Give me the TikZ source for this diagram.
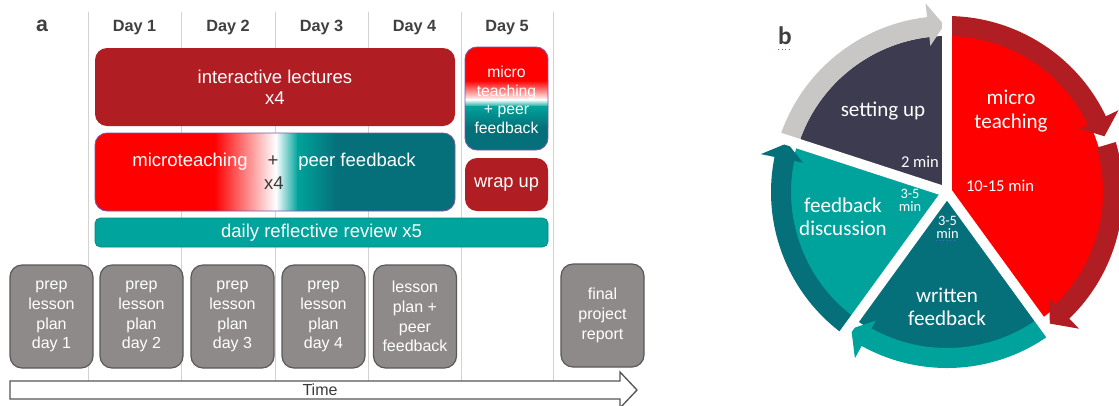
\documentclass[tikz,border=0pt]{standalone}
\usepackage{fontspec}
\setmainfont{Liberation Sans}
\newfontfamily\calib{Carlito}
\definecolor{lectred}{HTML}{B01E24}
\definecolor{cred}{HTML}{FF0000}
\definecolor{dteal}{HTML}{05707A}
\definecolor{lteal}{HTML}{00A39B}
\definecolor{revteal}{HTML}{00A49C}
\definecolor{revedge}{HTML}{00857F}
\definecolor{navy}{HTML}{3D3B4F}
\definecolor{greyarrow}{HTML}{C9C6C6}
\definecolor{boxgrey}{HTML}{8F8A8A}
\definecolor{boxedge}{HTML}{5A5858}
\definecolor{purp}{HTML}{7E57A8}
\definecolor{gridc}{HTML}{D2D2D2}
\definecolor{daytext}{HTML}{404040}
\definecolor{darktext}{HTML}{3A3A3A}
\definecolor{arrowc}{HTML}{555555}
\definecolor{spellblue}{HTML}{4A6FD0}
\newcommand\bandarrow[4]{%
  \fill[#1] (#2:156) arc[start angle=#2,end angle=#3,radius=156]
    -- (#3:147) -- (#4:167) -- (#3:190) -- (#3:176)
    arc[start angle=#3,end angle=#2,radius=176] -- cycle;}
\begin{document}
\begin{tikzpicture}[x=0.75pt,y=-0.75pt,
  every node/.style={inner sep=0pt, outer sep=0pt},
  gridline/.style={draw=gridc, line width=0.75pt},
  daylab/.style={font=\bfseries\fontsize{12.2}{14}\selectfont, text=daytext},
  bigtxt/.style={font=\fontsize{13.9}{15.75}\selectfont, text=white, align=center},
  redbox/.style={fill=lectred, rounded corners=9pt},
  gradborder/.style={draw=purp, line width=0.7pt, rounded corners=9pt},
  prepbox/.style={fill=boxgrey, draw=boxedge, line width=0.9pt, rounded corners=9pt,
    minimum width=62.25pt, minimum height=77.25pt, text=white, align=center,
    font=\fontsize{12}{14.8}\selectfont},
  btxt/.style={font=\calib\fontsize{15.8}{17.5}\selectfont, text=white, align=center},
  smalltxt/.style={font=\calib\fontsize{12.4}{14}\selectfont, text=white},
  tinytxt/.style={font=\calib\fontsize{10.8}{12}\selectfont, text=white, align=center},
  spell/.style={draw=spellblue, line width=0.6pt, dotted}
]
\useasboundingbox (0,0) rectangle (1119,405);

% ---------------- panel a ----------------
\foreach \x in {88,181,275,368,461,553} \draw[gridline] (\x,12) -- (\x,385);

\node[font=\bfseries\fontsize{16}{18}\selectfont, text=daytext] (la) at (42,26) {a};
\node[daylab] (d1) at (134.5,28) {Day 1};
\node[daylab] (d2) at (228,28) {Day 2};
\node[daylab] (d3) at (321.5,28) {Day 3};
\node[daylab] (d4) at (414.5,28) {Day 4};
\node[daylab] (d5) at (507,28) {Day 5};

\node[redbox, minimum width=270pt, minimum height=58.5pt, bigtxt] (lect) at (275,87) {interactive lectures\\x4};

% microteaching + peer feedback (horizontal gradient)
\begin{scope}
  \clip[rounded corners=9pt] (95,133) rectangle (455,211);
  \fill[cred] (94,132) rectangle (215,212);
  \shade[left color=cred, right color=white] (214.5,132) rectangle (276,212);
  \shade[left color=white, right color=lteal] (275.5,132) rectangle (298,212);
  \shade[left color=lteal, right color=dteal] (297.5,132) rectangle (337,212);
  \fill[dteal] (336.5,132) rectangle (456,212);
\end{scope}
\node[gradborder, minimum width=270pt, minimum height=58.5pt] (mt) at (275,172) {};
\node[bigtxt] (mtA) at (190,162) {microteaching};
\node[bigtxt, text=darktext] (mtP) at (273,161) {+};
\node[bigtxt] (mtB) at (357,162) {peer feedback};
\node[bigtxt, text=darktext] (mtX) at (274,183) {x4};

% day 5 box (vertical gradient)
\begin{scope}
  \clip[rounded corners=9pt] (465,47) rectangle (548,150);
  \fill[cred] (464,46) rectangle (549,81);
  \shade[top color=cred, bottom color=white] (464,80.5) rectangle (549,100);
  \shade[top color=white, bottom color=lteal] (464,99.5) rectangle (549,107);
  \shade[top color=lteal, bottom color=dteal] (464,106.5) rectangle (549,127);
  \fill[dteal] (464,126.5) rectangle (549,151);
\end{scope}
\node[gradborder, minimum width=62.25pt, minimum height=77.25pt] (d5box) at (506.5,98.5) {};
\node[font=\fontsize{11.8}{14}\selectfont, text=white, align=center] (d5txt) at (506.5,100) {micro\\teaching\\+ peer\\feedback};

\node[redbox, minimum width=62.25pt, minimum height=39.75pt, font=\fontsize{13.7}{15}\selectfont, text=white] (wrap) at (506.5,184.5) {wrap up};

\node[fill=revteal, draw=revedge, line width=0.5pt, rounded corners=4pt, minimum width=339.75pt, minimum height=21.75pt, bigtxt] (rev) at (321.5,232.5) {daily reflective review x5};

\node[prepbox] (p1) at (51.5,316.5) {prep\\lesson\\plan\\day 1};
\node[prepbox] (p2) at (141.5,316.5) {prep\\lesson\\plan\\day 2};
\node[prepbox] (p3) at (232.5,316.5) {prep\\lesson\\plan\\day 3};
\node[prepbox] (p4) at (323.5,316.5) {prep\\lesson\\plan\\day 4};
\node[prepbox] (p5) at (415,316.5) {lesson\\plan +\\peer\\feedback};
\node[prepbox] (pf) at (602.5,315.5) {final\\project\\report};

\draw[draw=arrowc, line width=1pt, fill=white, line join=miter]
  (10,381) -- (620,381) -- (620,372) -- (637,390) -- (620,408) -- (620,399) -- (10,399) -- cycle;
\node[font=\fontsize{12}{14}\selectfont, text=darktext] (time) at (320,390) {Time};

% ---------------- panel b ----------------
\begin{scope}[shift={(947,192)}, yscale=-1]
  \fill[navy] (0,0) -- (162:156) arc[start angle=162, end angle=90, radius=156] -- cycle;
  \fill[cred] (0,0) -- (90:158) arc[start angle=90, end angle=-54, radius=158] -- cycle;
  \fill[dteal] (0,0) -- (-54:157) arc[start angle=-54, end angle=-126, radius=157] -- cycle;
  \fill[lteal] (0,0) -- (-126:157) arc[start angle=-126, end angle=-198, radius=157] -- cycle;
  \bandarrow{greyarrow}{162}{96.5}{91}
  \bandarrow{lectred}{90}{25.5}{19.5}
  \bandarrow{lectred}{16.5}{-46}{-52}
  \bandarrow{lteal}{-54}{-119}{-125}
  \bandarrow{dteal}{-126}{-191.5}{-197}
  \foreach \a in {90,162,234,306} \draw[white, line width=7.5pt] (0,0) -- (\a:205);
\end{scope}

\node[font=\calib\bfseries\fontsize{19}{21}\selectfont, text=daytext] (lb) at (785,36) {b};
\draw[spell] (lb.south west) ++(0,4) -- ++(12,0);
\node[btxt] (su) at (883,111) {setting up};
\node[btxt] (mtc) at (1011,111) {micro\\teaching};
\node[smalltxt] (t2) at (920,162) {2 min};
\node[smalltxt] (t10) at (1000,186) {10-15 min};
\node[btxt] (fd) at (843,217) {feedback\\discussion};
\node[tinytxt] (t35a) at (910,200) {3-5\\[-2.5pt]min};
\node[tinytxt] (t35b) at (947.5,227) {3-5\\[-2.5pt]min};
\draw[spell] (t35a.south west) ++(0,2) -- ++(18,0);
\draw[spell] (t35b.south west) ++(0,2) -- ++(18,0);
\node[btxt] (wf) at (947,306.5) {written\\feedback};
\end{tikzpicture}
\end{document}
